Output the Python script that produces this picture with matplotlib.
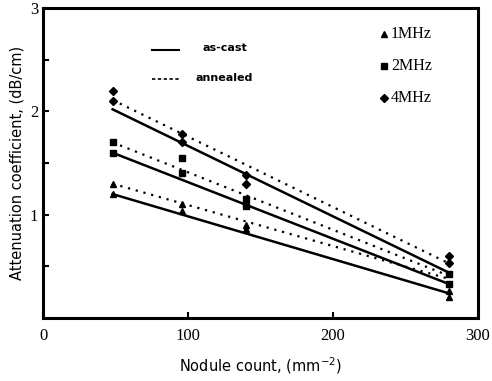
import matplotlib
matplotlib.use("Agg")
import matplotlib.pyplot as plt
from matplotlib.ticker import MultipleLocator, FuncFormatter

# Data
nodule_count = [48, 96, 140, 280]
freqs = ["1MHz", "2MHz", "4MHz"]
markers = {"1MHz": "^", "2MHz": "s", "4MHz": "D"}

as_cast_pts = {
    "1MHz": [1.20, 1.04, 0.86, 0.20],
    "2MHz": [1.60, 1.40, 1.08, 0.33],
    "4MHz": [2.10, 1.70, 1.30, 0.53],
}
annealed_pts = {
    "1MHz": [1.30, 1.10, 0.90, 0.26],
    "2MHz": [1.70, 1.55, 1.15, 0.43],
    "4MHz": [2.20, 1.78, 1.38, 0.60],
}
# fitted lines (values at the ends of the fitted range)
fit_x = [48, 280]
as_cast_fit = {
    "1MHz": [1.20, 0.24],
    "2MHz": [1.60, 0.33],
    "4MHz": [2.02, 0.44],
}
annealed_fit = {
    "1MHz": [1.30, 0.38],
    "2MHz": [1.70, 0.41],
    "4MHz": [2.11, 0.53],
}

fig = plt.figure(figsize=(4.92, 3.81), dpi=100)
ax = fig.add_axes([0.0874, 0.165, 0.884, 0.814])

msize = {"1MHz": 5, "2MHz": 5, "4MHz": 4}
for f in freqs:
    ax.plot(fit_x, as_cast_fit[f], color="black", lw=1.8, ls="-")
    ax.plot(fit_x, annealed_fit[f], color="black", lw=1.6, ls=(0, (1, 2.6)))
    ax.plot(nodule_count, as_cast_pts[f], ls="none", marker=markers[f],
            ms=msize[f], color="black")
    ax.plot(nodule_count, annealed_pts[f], ls="none", marker=markers[f],
            ms=msize[f], color="black")

ax.set_xlim(0, 300)
ax.set_ylim(0, 3)
ax.xaxis.set_major_locator(MultipleLocator(100))
ax.yaxis.set_major_locator(MultipleLocator(0.5))
ax.yaxis.set_major_formatter(FuncFormatter(
    lambda v, p: f"{int(round(v))}" if abs(v - round(v)) < 1e-6 and v > 0 else ""))
ax.tick_params(direction="in", length=4, width=1.5, labelsize=12)
ax.tick_params(axis="x", pad=7)
for lab in ax.get_xticklabels() + ax.get_yticklabels():
    lab.set_fontfamily("Liberation Serif")
for s in ax.spines.values():
    s.set_linewidth(2.2)

ax.set_xlabel("Nodule count, (mm$^{-2}$)", fontsize=10.5, fontfamily="DejaVu Sans",
              labelpad=8)
ax.set_ylabel("Attenuation coefficient, (dB/cm)", fontsize=10.5,
              fontfamily="DejaVu Sans", labelpad=4)

# line-style legend
ax.plot([75, 94], [2.59, 2.59], color="black", lw=1.5)
ax.plot([75, 94], [2.31, 2.31], color="black", lw=1.2, ls=(0, (2, 1.5)))
ax.text(110, 2.61, "as-cast", fontsize=8, fontweight="bold",
        fontfamily="DejaVu Sans", va="center")
ax.text(105, 2.32, "annealed", fontsize=8, fontweight="bold",
        fontfamily="DejaVu Sans", va="center")

# frequency legend
for i, f in enumerate(freqs):
    yv = 2.75 - 0.31 * i
    ax.plot([235], [yv], marker=markers[f], ms=4, color="black", ls="none")
    ax.text(240, yv, f, fontsize=11.5, fontfamily="Liberation Serif", va="center")

fig.savefig("out.png", dpi=100)
